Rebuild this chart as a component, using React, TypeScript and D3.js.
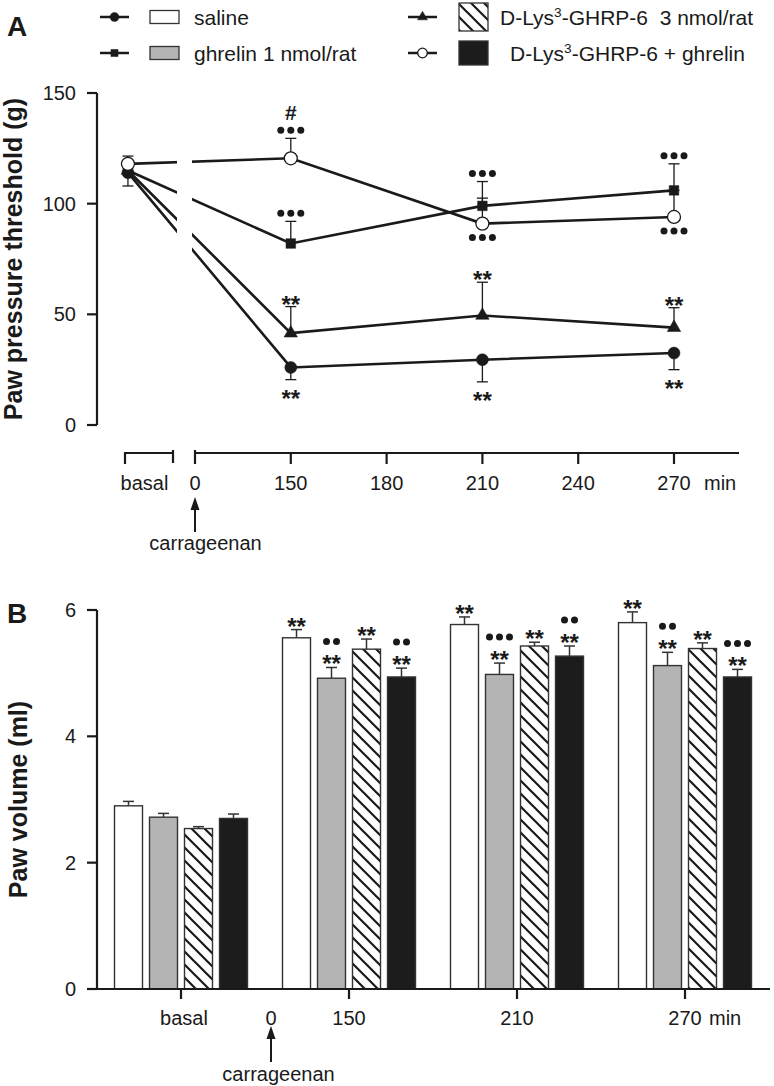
import React from "react";
import * as d3 from "d3";

const FONT = "'Liberation Sans', Arial, Helvetica, sans-serif";
const INK = "#1a1a1a";

// ---------- shared series ----------
const seriesKeys = ["saline", "ghrelin", "dlys", "combo"];
const legendLabels = ["saline", "ghrelin 1 nmol/rat", "D-Lys3-GHRP-6  3 nmol/rat", "D-Lys3-GHRP-6 + ghrelin"];

// ---------- Panel A : paw pressure threshold (g) ----------
const timeTicks = ["0", "150", "180", "210", "240", "270"];
const timePointsA = ["basal", "150", "210", "270"];
const salineA = [114, 26, 29.5, 32.5];
const ghrelinA = [115, 82, 99, 106];
const dlysA = [115, 41.5, 49.5, 44];
const comboA = [118, 120.5, 91, 94];
const salineAErr = [6, 5.5, 10, 7.5];
const ghrelinAErr = [3, 10, 11, 12];
const dlysAErr = [3, 12, 15, 9];
const comboAErr = [3.5, 9, 11.5, 12];
const errDirA = [-1, 1, 1, 1];
const yTicksA = [0, 50, 100, 150];
// [series index, time, marks (inner → outer), side]
const annotA: [number, string, string[], string][] = [
  [3, "150", ["dots3", "#"], "up"],
  [1, "150", ["dots3"], "up"],
  [2, "150", ["**"], "up"],
  [0, "150", ["**"], "down"],
  [1, "210", ["dots3"], "up"],
  [3, "210", ["dots3"], "down"],
  [2, "210", ["**"], "up"],
  [0, "210", ["**"], "down"],
  [1, "270", ["dots3"], "up"],
  [3, "270", ["dots3"], "down"],
  [2, "270", ["**"], "up"],
  [0, "270", ["**"], "down"],
];

// ---------- Panel B : paw volume (ml) ----------
const groupsB = ["basal", "150", "210", "270"];
const salineB = [2.9, 5.56, 5.77, 5.8];
const ghrelinB = [2.72, 4.92, 4.98, 5.12];
const dlysB = [2.54, 5.38, 5.43, 5.39];
const comboB = [2.7, 4.94, 5.27, 4.94];
const salineBErr = [0.07, 0.13, 0.12, 0.17];
const ghrelinBErr = [0.06, 0.17, 0.18, 0.21];
const dlysBErr = [0.03, 0.16, 0.06, 0.09];
const comboBErr = [0.07, 0.14, 0.16, 0.12];
const yTicksB = [0, 2, 4, 6];
const annotB: string[][][] = [
  [[], ["**"], ["**"], ["**"]],
  [[], ["**", "dots2"], ["**", "dots3"], ["**", "dots2"]],
  [[], ["**"], ["**"], ["**"]],
  [[], ["**", "dots2"], ["**", "dots2"], ["**", "dots3"]],
];

const valuesA = [salineA, ghrelinA, dlysA, comboA];
const errsA = [salineAErr, ghrelinAErr, dlysAErr, comboAErr];
const valuesB = [salineB, ghrelinB, dlysB, comboB];
const errsB = [salineBErr, ghrelinBErr, dlysBErr, comboBErr];

const barFill = ["#ffffff", "#b4b4b4", "url(#hatch)", "#1c1c1c"];

function markerPath(key: string, k = 1) {
  const sym = key === "saline" || key === "combo" ? d3.symbolCircle : key === "ghrelin" ? d3.symbolSquare : d3.symbolTriangle;
  const size = ({ saline: 113, ghrelin: 92, dlys: 78, combo: 133 } as any)[key] * k;
  return d3.symbol(sym, size)() as string;
}

function Marker({ k, x, y, scale = 1 }: { k: string; x: number; y: number; scale?: number }) {
  const open = k === "combo";
  return (
    <path
      d={markerPath(k, scale)}
      transform={`translate(${x},${y})`}
      fill={open ? "#fff" : INK}
      stroke={INK}
      strokeWidth={open ? 1.3 : 0.5}
    />
  );
}

function Mark({ m, x, y }: { m: string; x: number; y: number }) {
  if (m.startsWith("dots")) {
    const n = +m.slice(4);
    return (
      <g>
        {d3.range(n).map((i) => (
          <circle key={i} cx={x + (i - (n - 1) / 2) * 10} cy={y} r={3.5} fill={INK} />
        ))}
      </g>
    );
  }
  if (m === "#") {
    return (
      <text x={x} y={y + 7} fontSize={21} fontWeight="bold" textAnchor="middle" fill={INK}>
        #
      </text>
    );
  }
  return (
    <text x={x} y={y + 14} fontSize={24} fontWeight="bold" textAnchor="middle" fill={INK}>
      {m}
    </text>
  );
}

function DLysText({ x, y, rest, size }: { x: number; y: number; rest: string; size: number }) {
  return (
    <text x={x} y={y} fontSize={size} fill={INK} style={{ whiteSpace: "pre" }}>
      D-Lys
      <tspan dy={-8} fontSize={size * 0.65}>
        3
      </tspan>
      <tspan dy={8}>{rest}</tspan>
    </text>
  );
}

export default function App() {
  // ---- Panel A scales ----
  const yA = d3.scaleLinear().domain([0, 150]).range([425, 93]);
  const xA = d3.scalePoint().domain(timeTicks).range([195, 674]);
  const stepA = xA.step();
  const x0 = xA("0") as number;
  const posA = (t: string) => (t === "basal" ? x0 - 0.7 * stepA : (xA(t) as number));
  const axisYA = 453;

  const line = d3
    .line<number>()
    .x((_, i) => posA(timePointsA[i]))
    .y((v) => yA(v));

  // ---- Panel B scales ----
  const yB = d3.scaleLinear().domain([0, 6]).range([989, 610]);
  const xB = d3.scaleBand().domain(groupsB).range([97, 769]).padding(0);
  const inner = d3.scaleBand().domain(seriesKeys).range([-70, 70]).paddingInner(0.2).paddingOuter(0.1);
  const gc = (g: string) => (xB(g) as number) + xB.bandwidth() / 2;
  const bw = inner.bandwidth();

  return (
    <svg
      width={774}
      height={1086}
      style={{ position: "absolute", left: 0, top: 0, background: "#fff" }}
      fontFamily={FONT}
    >
      <defs>
        <pattern id="hatch" patternUnits="userSpaceOnUse" width={13} height={13}>
          <rect width={13} height={13} fill="#fff" />
          <path d="M0,0 L13,13 M-2,11 L2,15 M11,-2 L15,2" stroke={INK} strokeWidth={2.2} />
        </pattern>
        <clipPath id="gapClip">
          <rect x={0} y={0} width={x0 - 18} height={500} />
          <rect x={x0 - 3} y={0} width={774} height={500} />
        </clipPath>
      </defs>

      {/* ---------------- Legend ---------------- */}
      <text x={7} y={36} fontSize={28} fontWeight="bold" fill={INK}>
        A
      </text>
      {seriesKeys.map((k, i) => {
        const col = i === 0 || i === 1 ? 0 : 1;
        const row = i === 0 || i === 2 ? 0 : 1;
        const cy = row === 0 ? 17 : 53;
        const lx = col === 0 ? 100 : 408;
        const bx = col === 0 ? 150 : 459;
        const bh = col === 0 ? 13 : row === 0 ? 28 : 24;
        const tx = col === 0 ? 194 : row === 0 ? 500 : 510;
        return (
          <g key={k}>
            <line x1={lx} x2={lx + 29} y1={cy} y2={cy} stroke={INK} strokeWidth={2.5} />
            <Marker k={k} x={lx + 14.5} y={cy} scale={0.55} />
            <rect x={bx} y={cy - bh / 2} width={29} height={bh} fill={barFill[i]} stroke="#333" strokeWidth={1.3} />
            {i < 2 ? (
              <text x={tx} y={cy + 7.5} fontSize={21} fill={INK}>
                {legendLabels[i]}
              </text>
            ) : (
              <DLysText x={tx} y={cy + 7.5} size={21} rest={i === 2 ? "-GHRP-6  3 nmol/rat" : "-GHRP-6 + ghrelin"} />
            )}
          </g>
        );
      })}

      {/* ---------------- Panel A ---------------- */}
      <text transform={`translate(22,${(yA(0) + yA(150)) / 2}) rotate(-90)`} fontSize={25} fontWeight="bold" textAnchor="middle" fill={INK}>
        Paw pressure threshold (g)
      </text>
      {/* y axis */}
      <line x1={97} x2={97} y1={yA(150)} y2={yA(0)} stroke={INK} strokeWidth={2.2} />
      {yTicksA.map((t) => (
        <g key={t}>
          <line x1={87} x2={97} y1={yA(t)} y2={yA(t)} stroke={INK} strokeWidth={2.2} />
          <text x={76} y={yA(t)} dy="0.35em" fontSize={20} textAnchor="end" fill={INK}>
            {t}
          </text>
        </g>
      ))}
      {/* x axis: basal bracket */}
      <path
        d={`M${x0 - 70},${axisYA + 11} V${axisYA} H${x0 - 22} M${x0 - 22},${axisYA - 3} V${axisYA + 10}`}
        fill="none"
        stroke={INK}
        strokeWidth={2.2}
      />
      {/* main axis */}
      <path d={`M${x0},${axisYA - 3} V${axisYA + 11} M${x0},${axisYA} H${(xA("270") as number) + 65}`} fill="none" stroke={INK} strokeWidth={2.2} />
      {timeTicks.slice(1).map((t) => (
        <line key={t} x1={xA(t)} x2={xA(t)} y1={axisYA} y2={axisYA + 11} stroke={INK} strokeWidth={2.2} />
      ))}
      <text x={x0 - 50.5} y={490} fontSize={20} textAnchor="middle" fill={INK}>
        basal
      </text>
      {timeTicks.map((t) => (
        <text key={t} x={xA(t)} y={490} fontSize={20} textAnchor="middle" fill={INK}>
          {t}
        </text>
      ))}
      <text x={(xA("270") as number) + 30} y={490} fontSize={20} fill={INK}>
        min
      </text>
      {/* carrageenan arrow */}
      <line x1={x0} x2={x0} y1={508} y2={532} stroke={INK} strokeWidth={2} />
      <path d={`M${x0},497 L${x0 - 4.5},510 L${x0 + 4.5},510 Z`} fill={INK} />
      <text x={x0 + 10.5} y={550} fontSize={20} textAnchor="middle" fill={INK}>
        carrageenan
      </text>

      {/* lines */}
      <g clipPath="url(#gapClip)">
        {valuesA.map((vals, i) => (
          <path key={i} d={line(vals) as string} fill="none" stroke={INK} strokeWidth={2.6} />
        ))}
      </g>
      {/* error bars */}
      {valuesA.map((vals, i) =>
        vals.map((v, j) => {
          const x = posA(timePointsA[j]);
          const ye = yA(v + errDirA[i] * errsA[i][j]);
          return (
            <g key={`e${i}-${j}`}>
              <line x1={x} x2={x} y1={yA(v)} y2={ye} stroke={INK} strokeWidth={1.3} />
              <line x1={x - 5.5} x2={x + 5.5} y1={ye} y2={ye} stroke={INK} strokeWidth={1.3} />
            </g>
          );
        })
      )}
      {/* markers */}
      {valuesA.map((vals, i) =>
        vals.map((v, j) => <Marker key={`m${i}-${j}`} k={seriesKeys[i]} x={posA(timePointsA[j])} y={yA(v)} />)
      )}
      {/* annotations */}
      {annotA.map(([si, t, marks, side], n) => {
        const j = timePointsA.indexOf(t);
        const v = valuesA[si][j];
        const x = posA(t);
        let base: number;
        if (side === "up") base = yA(v + Math.max(0, errDirA[si]) * errsA[si][j]) - 8;
        else base = (errDirA[si] < 0 ? yA(v - errsA[si][j]) : yA(v) + 1) + 13;
        return (
          <g key={`a${n}`}>
            {marks.map((m, k) => (
              <Mark key={k} m={m} x={x} y={side === "up" ? base - k * 17 : base + k * 17} />
            ))}
          </g>
        );
      })}

      {/* ---------------- Panel B ---------------- */}
      <text x={7} y={623} fontSize={28} fontWeight="bold" fill={INK}>
        B
      </text>
      <text transform={`translate(27,${(yB(0) + yB(6)) / 2}) rotate(-90)`} fontSize={25} fontWeight="bold" textAnchor="middle" fill={INK}>
        Paw volume (ml)
      </text>
      {/* bars */}
      {valuesB.map((vals, i) =>
        vals.map((v, j) => {
          const x = gc(groupsB[j]) + (inner(seriesKeys[i]) as number);
          const ye = yB(v + errsB[i][j]);
          return (
            <g key={`b${i}-${j}`}>
              <line x1={x + bw / 2} x2={x + bw / 2} y1={yB(v)} y2={ye} stroke="#333" strokeWidth={1.5} />
              <line x1={x + bw / 2 - 5.5} x2={x + bw / 2 + 5.5} y1={ye} y2={ye} stroke="#333" strokeWidth={1.5} />
              <rect x={x} y={yB(v)} width={bw} height={yB(0) - yB(v)} fill={barFill[i]} stroke="#333" strokeWidth={1.4} />
              {annotB[i][j].map((m, k) => (
                <Mark key={k} m={m} x={x + bw / 2} y={ye - 9 - k * 17} />
              ))}
            </g>
          );
        })
      )}
      {/* y axis */}
      <line x1={97} x2={97} y1={yB(6)} y2={yB(0)} stroke={INK} strokeWidth={2.2} />
      {yTicksB.map((t) => (
        <g key={t}>
          <line x1={87} x2={97} y1={yB(t)} y2={yB(t)} stroke={INK} strokeWidth={2.2} />
          <text x={76} y={yB(t)} dy="0.35em" fontSize={20} textAnchor="end" fill={INK}>
            {t}
          </text>
        </g>
      ))}
      {/* x axis */}
      <line x1={87} x2={770} y1={yB(0)} y2={yB(0)} stroke={INK} strokeWidth={2.2} />
      {groupsB.map((g) => (
        <g key={g}>
          <line x1={gc(g)} x2={gc(g)} y1={yB(0)} y2={yB(0) + 10} stroke={INK} strokeWidth={2.2} />
          <text x={gc(g) + (g === "basal" ? 3 : 0)} y={1025} fontSize={20} textAnchor="middle" fill={INK}>
            {g}
          </text>
        </g>
      ))}
      <text x={gc("270") + 24} y={1025} fontSize={20} fill={INK}>
        min
      </text>
      {(() => {
        const xc = (gc("basal") + gc("150")) / 2 + 6;
        return (
          <g>
            <text x={xc} y={1025} fontSize={20} textAnchor="middle" fill={INK}>
              0
            </text>
            <line x1={xc} x2={xc} y1={1036} y2={1062} stroke={INK} strokeWidth={2} />
            <path d={`M${xc},1026 L${xc - 4.5},1039 L${xc + 4.5},1039 Z`} fill={INK} />
            <text x={xc + 7.5} y={1081} fontSize={20} textAnchor="middle" fill={INK}>
              carrageenan
            </text>
          </g>
        );
      })()}
    </svg>
  );
}
